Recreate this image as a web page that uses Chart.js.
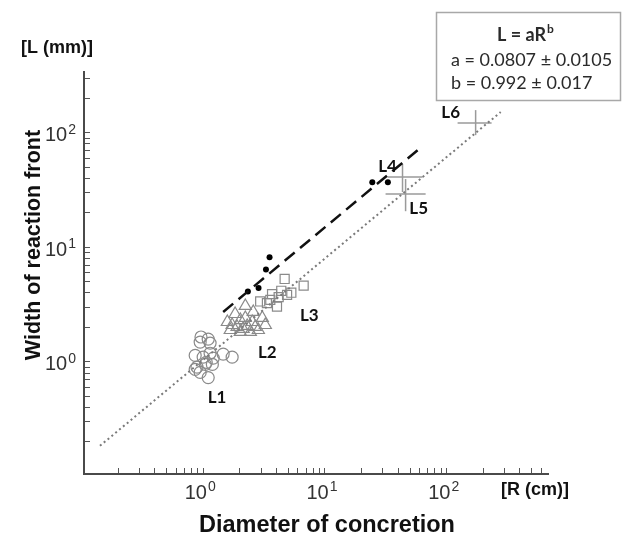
<!DOCTYPE html>
<html>
<head>
<meta charset="utf-8">
<script src="https://cdn.jsdelivr.net/npm/chart.js@4.4.1/dist/chart.umd.min.js"></script>
<style>
  html, body { margin: 0; padding: 0; background: #fff; }
</style>
</head>
<body>
<canvas id="chart" width="623" height="537"></canvas>
<script>
// L1 – open circles
const l1R = [0.96, 1.10, 0.945, 1.14, 0.86, 1.0, 1.14, 1.21, 1.06, 1.46, 1.73, 0.89, 1.04, 1.19, 0.86, 1.10, 0.945];
const l1L = [1.65, 1.58, 1.49, 1.46, 1.14, 1.10, 1.19, 1.08, 0.99, 1.17, 1.10, 0.90, 0.95, 0.95, 0.86, 0.73, 0.81];
// L2 – open triangles
const l2R = [2.22, 2.58, 1.83, 2.22, 3.06, 1.58, 1.90, 2.30, 2.68, 3.24, 1.67, 2.02, 2.44, 2.84, 2.13, 2.53, 2.02, 1.73];
const l2L = [3.08, 2.73, 2.62, 2.42, 2.42, 2.23, 2.02, 2.06, 2.02, 2.10, 1.90, 1.83, 1.83, 1.90, 1.94, 2.23, 2.32, 2.10];
// L3 – open squares
const l3R = [4.67, 6.69, 3.68, 4.89, 4.17, 3.56, 2.94, 3.34, 4.04, 4.38, 5.30];
const l3L = [5.30, 4.63, 3.91, 3.85, 3.68, 3.48, 3.37, 3.26, 3.04, 4.18, 4.02];
// L4 – filled dots
const l4R = [2.33, 2.85, 3.28, 3.51, 24.5, 32.9];
const l4L = [4.12, 4.42, 6.40, 8.20, 37.0, 37.0];
// L5 (two) and L6 – values with error ranges
const crossR = [43.4, 46, 173];
const crossL = [41.1, 29.2, 122];
const crossRLow = [32.7, 31.5, 123];
const crossRHigh = [63.5, 67.2, 234];
const crossLLow = [30.4, 20.7, 95.5];
const crossLHigh = [53.5, 39.5, 158];
// fitted power law (dotted) and L4 trend (dashed)
const fitR = [0.142, 278];
const fitL = [0.185, 152];
const trendR = [1.46, 57.7];
const trendL = [2.73, 70.5];

const groupLabels = ['L1', 'L2', 'L3', 'L4', 'L5', 'L6'];
const labelR = [1.30, 3.36, 7.45, 32.7, 58.9, 108];
const labelL = [0.49, 1.22, 2.52, 50.4, 22.0, 152];

const decades = [0.1, 1, 10, 100];
const majorValues = [1, 10, 100];
const majorExponents = ['0', '1', '2'];

const xMin = 0.105, xMax = 680;
const yMin = 0.105, yMax = 340;

const logTicks = (min, max) => {
  const out = [];
  decades.forEach(d => {
    for (let m = 1; m <= 9; m++) {
      const v = +(d * m).toPrecision(3);
      if (v >= min && v <= max) out.push({ value: v });
    }
  });
  return out;
};

const pts = (rs, ls) => rs.map((r, i) => ({ x: r, y: ls[i] }));

const markerGrey = '#8a8a8a';
const crossGrey = '#9a9a9a';

const crossSets = [];
crossR.forEach((r, i) => {
  crossSets.push({
    data: [{ x: crossRLow[i], y: crossL[i] }, { x: crossRHigh[i], y: crossL[i] }],
    showLine: true, borderColor: crossGrey, borderWidth: 1.5, pointRadius: 0
  });
  crossSets.push({
    data: [{ x: r, y: crossLLow[i] }, { x: r, y: crossLHigh[i] }],
    showLine: true, borderColor: crossGrey, borderWidth: 1.5, pointRadius: 0
  });
});

// "10" with a raised exponent, anchored at (cx, cy); align 'center' or 'right'
const powerLabel = (ctx, exp, cx, cy, align) => {
  ctx.font = '20px "Liberation Sans"';
  const bw = ctx.measureText('10').width;
  ctx.font = '14px "Liberation Sans"';
  const ew = ctx.measureText(exp).width;
  const left = align === 'right' ? cx - bw - ew - 1 : cx - (bw + ew + 1) / 2;
  ctx.textAlign = 'left';
  ctx.textBaseline = 'middle';
  ctx.font = '20px "Liberation Sans"';
  ctx.fillText('10', left, cy);
  ctx.font = '14px "Liberation Sans"';
  ctx.fillText(exp, left + bw + 1, cy - 6);
};

const annotate = {
  id: 'annotate',
  afterDraw(chart) {
    const { ctx, scales: { x, y } } = chart;
    ctx.save();

    // tick labels at the scale's decade positions
    ctx.fillStyle = '#333';
    majorValues.forEach((v, i) => {
      powerLabel(ctx, majorExponents[i], x.getPixelForValue(v) - 3, 493, 'center');
      powerLabel(ctx, majorExponents[i], 76, y.getPixelForValue(v) + 3, 'right');
    });

    ctx.fillStyle = '#111';
    ctx.textAlign = 'center';
    ctx.textBaseline = 'middle';

    // axis titles
    ctx.font = 'bold 23.5px "Liberation Sans"';
    ctx.fillText('Diameter of concretion', 327, 526);
    ctx.save();
    ctx.translate(34, 245);
    ctx.rotate(-Math.PI / 2);
    ctx.font = 'bold 21.5px "Liberation Sans"';
    ctx.fillText('Width of reaction front', 0, 0);
    ctx.restore();

    ctx.font = 'bold 18px "Liberation Sans"';
    ctx.fillText('[L (mm)]', 57, 48);
    ctx.fillText('[R (cm)]', 535, 490);

    // group labels
    ctx.font = 'bold 17px Lato';
    groupLabels.forEach((t, i) => {
      ctx.fillText(t, x.getPixelForValue(labelR[i]), y.getPixelForValue(labelL[i]));
    });

    // fit box
    ctx.strokeStyle = '#a8a8a8';
    ctx.lineWidth = 1.5;
    ctx.strokeRect(436.5, 12.5, 184, 88);
    ctx.fillStyle = '#2a2a2a';
    ctx.font = 'bold 18px Lato';
    const head = 'L = aR';
    const hw = ctx.measureText(head).width;
    ctx.font = 'bold 12px Lato';
    const sw = ctx.measureText('b').width;
    const hx = 525 - (hw + sw) / 2;
    ctx.textAlign = 'left';
    ctx.font = 'bold 18px Lato';
    ctx.fillText(head, hx, 35);
    ctx.font = 'bold 12px Lato';
    ctx.fillText('b', hx + hw + 1, 29);
    ctx.font = '18px Lato';
    ctx.fillText('a = 0.0807 \u00b1 0.0105', 451, 60);
    ctx.fillText('b = 0.992 \u00b1 0.017', 451, 83);
    ctx.restore();
  }
};

new Chart(document.getElementById('chart'), {
  type: 'scatter',
  data: {
    datasets: [
      { data: pts(fitR, fitL), showLine: true, borderColor: '#7a7a7a', borderWidth: 2, borderDash: [2, 3], pointRadius: 0 },
      { data: pts(trendR, trendL), showLine: true, borderColor: '#111', borderWidth: 2.5, borderDash: [13, 7], pointRadius: 0 },
      ...crossSets,
      { data: pts(l1R, l1L), pointStyle: 'circle', pointRadius: 6, borderColor: markerGrey, borderWidth: 1.2, backgroundColor: 'rgba(0,0,0,0)' },
      { data: pts(l2R, l2L), pointStyle: 'triangle', pointRadius: 7, borderColor: markerGrey, borderWidth: 1.2, backgroundColor: 'rgba(0,0,0,0)' },
      { data: pts(l3R, l3L), pointStyle: 'rect', pointRadius: 6.4, borderColor: markerGrey, borderWidth: 1.2, backgroundColor: 'rgba(0,0,0,0)' },
      { data: pts(l4R, l4L), pointStyle: 'circle', pointRadius: 3, borderColor: '#000', borderWidth: 0, backgroundColor: '#000' }
    ]
  },
  options: {
    responsive: false,
    animation: false,
    devicePixelRatio: 1,
    layout: { padding: { top: 72, right: 75, left: 0, bottom: 0 } },
    plugins: { legend: { display: false }, tooltip: { enabled: false } },
    scales: {
      x: {
        type: 'logarithmic',
        position: 'bottom',
        min: xMin, max: xMax,
        afterBuildTicks: s => { s.ticks = logTicks(xMin, xMax); },
        afterFit: s => { s.height = 63; },
        border: { display: true, color: '#4a4a4a', width: 2 },
        grid: { drawOnChartArea: false, drawTicks: true, tickLength: -6, tickColor: '#555', tickWidth: 1 },
        ticks: { autoSkip: false, maxRotation: 0, callback: () => '' }
      },
      y: {
        type: 'logarithmic',
        position: 'left',
        min: yMin, max: yMax,
        afterBuildTicks: s => { s.ticks = logTicks(yMin, yMax); },
        afterFit: s => { s.width = 84; },
        border: { display: true, color: '#4a4a4a', width: 2 },
        grid: { drawOnChartArea: false, drawTicks: true, tickLength: -6, tickColor: '#555', tickWidth: 1 },
        ticks: { autoSkip: false, callback: () => '' }
      }
    }
  },
  plugins: [annotate]
});
</script>
</body>
</html>
